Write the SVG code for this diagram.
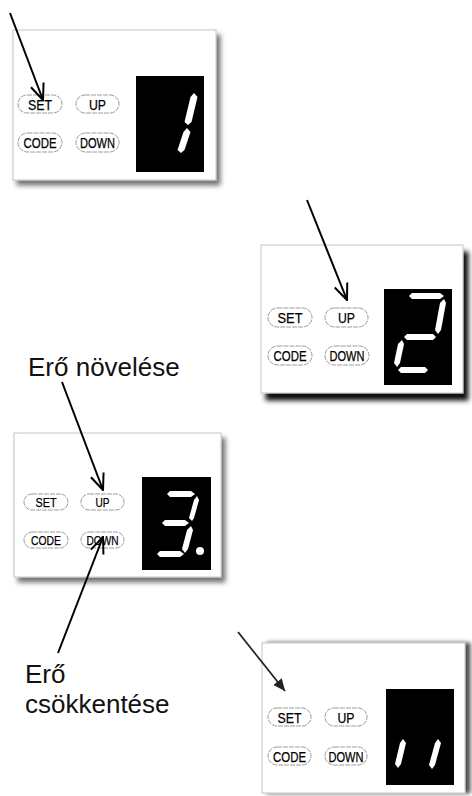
<svg xmlns="http://www.w3.org/2000/svg" width="472" height="796" viewBox="0 0 472 796">
<style>
.frame{fill:#fff;stroke:#c4c4c4;stroke-width:1}
.disp{fill:#000}
.seg{fill:#fff}
.pill{fill:#fff;stroke:#909090;stroke-width:0.9;stroke-dasharray:5,1}
.bt{font-family:"Liberation Sans",Arial,sans-serif;font-size:15px;fill:#000;stroke:#000;stroke-width:0.25;text-anchor:middle}
.bs{font-size:13px}
.lbl{font-family:"Liberation Sans",Arial,sans-serif;font-size:26px;fill:#111}
.arr{stroke:#000;stroke-width:2;fill:none}
</style>
<defs>
<marker id="open" viewBox="0 0 20 20" refX="19" refY="10" markerWidth="18" markerHeight="18" markerUnits="userSpaceOnUse" orient="auto">
<path d="M1,2.5 L19,10 L1,17.5" fill="none" stroke="#000" stroke-width="2.2"/>
</marker>
<marker id="solid" viewBox="0 0 10 10" refX="10" refY="5" markerWidth="12" markerHeight="12" markerUnits="userSpaceOnUse" orient="auto">
<path d="M0,0.5 L10,5 L0,9.5 Z" fill="#222"/>
</marker>
<filter id="shGray" x="-10%" y="-10%" width="130%" height="130%">
<feDropShadow dx="4" dy="5" stdDeviation="2.5" flood-color="#000" flood-opacity="0.55"/>
</filter>
<filter id="shDark" x="-10%" y="-10%" width="130%" height="130%">
<feDropShadow dx="5" dy="7" stdDeviation="2.5" flood-color="#000" flood-opacity="0.95"/>
</filter>
<filter id="shRight" x="-10%" y="-10%" width="130%" height="130%">
<feDropShadow dx="5" dy="0" stdDeviation="2" flood-color="#000" flood-opacity="0.7"/>
</filter>
</defs>

<g id="panel1">
<rect class="frame" x="13" y="30" width="203" height="150" filter="url(#shGray)"/>
<rect class="disp" x="136" y="76" width="68" height="96"/>
<polygon class="seg" points="194,93 197.5,97 191.5,122 188,125 184.5,122 190.5,97"/>
<polygon class="seg" points="187,128 190.5,132 184.5,150 181,153 177.5,150 183.5,132"/>
<rect class="pill" x="18" y="95" width="44" height="18" rx="9"/>
<text class="bt" x="40" y="109.5" textLength="24" lengthAdjust="spacingAndGlyphs">SET</text>
<rect class="pill" x="76" y="95" width="43" height="18" rx="9"/>
<text class="bt" x="97.5" y="109.5" textLength="17" lengthAdjust="spacingAndGlyphs">UP</text>
<rect class="pill" x="18" y="133" width="44" height="19" rx="9.5"/>
<text class="bt" x="40" y="148" textLength="33" lengthAdjust="spacingAndGlyphs">CODE</text>
<rect class="pill" x="76" y="133" width="43" height="19" rx="9.5"/>
<text class="bt" x="97.5" y="148" textLength="35" lengthAdjust="spacingAndGlyphs">DOWN</text>
</g>

<g id="panel2">
<rect class="frame" x="261" y="245" width="202" height="148" filter="url(#shDark)"/>
<rect class="disp" x="384" y="289" width="68" height="96"/>
<polygon class="seg" points="409,296 412,293 440,293 444,296 440,299 412,299"/>
<polygon class="seg" points="444,299 446,303 441,330 438,334 435,330 440,303"/>
<polygon class="seg" points="404,337 407,334 433,334 436,337 433,340 407,340"/>
<polygon class="seg" points="402,340 404,344 400,363 397,367 394,363 398,344"/>
<polygon class="seg" points="398,370 401,367 425,367 428,370 425,373 401,373"/>
<rect class="pill" x="268" y="308" width="44" height="19" rx="9.5"/>
<text class="bt" x="290" y="323" textLength="25" lengthAdjust="spacingAndGlyphs">SET</text>
<rect class="pill" x="325" y="308" width="43" height="19" rx="9.5"/>
<text class="bt" x="346.5" y="323" textLength="17" lengthAdjust="spacingAndGlyphs">UP</text>
<rect class="pill" x="268" y="346" width="44" height="19" rx="9.5"/>
<text class="bt" x="290" y="361" textLength="33" lengthAdjust="spacingAndGlyphs">CODE</text>
<rect class="pill" x="325" y="346" width="44" height="19" rx="9.5"/>
<text class="bt" x="347" y="361" textLength="35" lengthAdjust="spacingAndGlyphs">DOWN</text>
</g>

<g id="panel3">
<rect class="frame" x="14" y="433" width="207" height="144" filter="url(#shGray)"/>
<rect class="disp" x="142" y="477" width="69" height="93"/>
<polygon class="seg" points="167,494 170,491 191,491 195,494 191,497 170,497"/>
<polygon class="seg" points="197,496 199,500 194,518 192,521 189,518 194,500"/>
<polygon class="seg" points="162,523 165,520 185,520 189,523 185,526 165,526"/>
<polygon class="seg" points="191,526 193,530 188,549 185,553 182,549 187,530"/>
<polygon class="seg" points="157,554 160,551 180,551 184,554 180,557 160,557"/>
<circle class="seg" cx="200" cy="551" r="4"/>
<rect class="pill" x="24" y="494" width="44" height="16" rx="8"/>
<text class="bt bs" x="46" y="507" textLength="21" lengthAdjust="spacingAndGlyphs">SET</text>
<rect class="pill" x="81" y="494" width="43" height="16" rx="8"/>
<text class="bt bs" x="102.5" y="507" textLength="14" lengthAdjust="spacingAndGlyphs">UP</text>
<rect class="pill" x="24" y="532" width="44" height="16" rx="8"/>
<text class="bt bs" x="46" y="545" textLength="30" lengthAdjust="spacingAndGlyphs">CODE</text>
<rect class="pill" x="81" y="532" width="43" height="16" rx="8"/>
<text class="bt bs" x="102.5" y="545" textLength="32" lengthAdjust="spacingAndGlyphs">DOWN</text>
</g>

<g id="panel4">
<rect class="frame" x="262" y="643" width="203" height="150" filter="url(#shRight)"/>
<rect class="disp" x="386" y="689" width="68" height="96"/>
<polygon class="seg" points="403,739 406,743 401,764 398,768 395,764 400,743"/>
<polygon class="seg" points="438,739 441,743 435,765 432,769 429,765 435,743"/>
<rect class="pill" x="268" y="708" width="43" height="18" rx="9"/>
<text class="bt" x="289.5" y="722.5" textLength="24" lengthAdjust="spacingAndGlyphs">SET</text>
<rect class="pill" x="325" y="708" width="42" height="18" rx="9"/>
<text class="bt" x="346" y="722.5" textLength="17" lengthAdjust="spacingAndGlyphs">UP</text>
<rect class="pill" x="268" y="747" width="43" height="18" rx="9"/>
<text class="bt" x="289.5" y="761.5" textLength="33" lengthAdjust="spacingAndGlyphs">CODE</text>
<rect class="pill" x="325" y="747" width="42" height="18" rx="9"/>
<text class="bt" x="346" y="761.5" textLength="35" lengthAdjust="spacingAndGlyphs">DOWN</text>
</g>

<g id="label-up">
<text class="lbl" x="28" y="376">Erő növelése</text>
</g>
<g id="label-down">
<text class="lbl" x="25" y="683">Erő</text>
<text class="lbl" x="25" y="713">csökkentése</text>
</g>

<g id="connectors">
<line class="arr" x1="10" y1="13" x2="43" y2="100" marker-end="url(#open)"/>
<line class="arr" x1="307" y1="200" x2="347" y2="300" marker-end="url(#open)"/>
<line class="arr" x1="62" y1="382" x2="103" y2="490" marker-end="url(#open)"/>
<line class="arr" x1="58" y1="653" x2="103" y2="537" marker-end="url(#open)"/>
<line x1="238" y1="632" x2="285" y2="691" stroke="#222" stroke-width="1.8" marker-end="url(#solid)"/>
</g>
</svg>
